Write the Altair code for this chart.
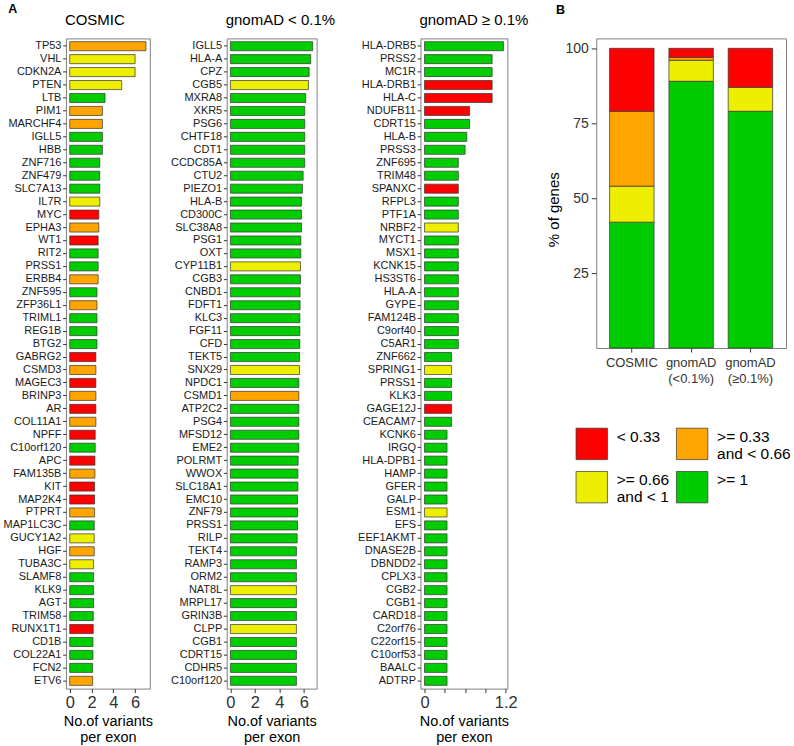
import altair as alt
import pandas as pd

FONT = "Liberation Sans"

# ---------------- data ----------------
cosmic_genes = ["TP53", "VHL", "CDKN2A", "PTEN", "LTB", "PIM1", "MARCHF4", "IGLL5", "HBB", "ZNF716",
                "ZNF479", "SLC7A13", "IL7R", "MYC", "EPHA3", "WT1", "RIT2", "PRSS1", "ERBB4", "ZNF595",
                "ZFP36L1", "TRIML1", "REG1B", "BTG2", "GABRG2", "CSMD3", "MAGEC3", "BRINP3", "AR", "COL11A1",
                "NPFF", "C10orf120", "APC", "FAM135B", "KIT", "MAP2K4", "PTPRT", "MAP1LC3C", "GUCY1A2", "HGF",
                "TUBA3C", "SLAMF8", "KLK9", "AGT", "TRIM58", "RUNX1T1", "CD1B", "COL22A1", "FCN2", "ETV6"]
cosmic_values = [7.0, 6.0, 6.0, 4.77, 3.24, 3.0, 3.0, 3.0, 3.0, 2.76,
                 2.76, 2.76, 2.76, 2.67, 2.67, 2.61, 2.61, 2.61, 2.61, 2.5,
                 2.5, 2.5, 2.5, 2.5, 2.4, 2.4, 2.4, 2.4, 2.4, 2.4,
                 2.34, 2.34, 2.31, 2.31, 2.28, 2.28, 2.28, 2.25, 2.25, 2.25,
                 2.19, 2.19, 2.19, 2.19, 2.16, 2.16, 2.13, 2.13, 2.1, 2.1]
cosmic_class = ["O", "Y", "Y", "Y", "G", "O", "O", "G", "G", "G",
                "G", "G", "Y", "R", "O", "R", "G", "G", "O", "G",
                "O", "G", "G", "G", "R", "O", "R", "O", "R", "O",
                "R", "G", "R", "O", "R", "R", "O", "G", "Y", "O",
                "Y", "G", "G", "G", "G", "R", "G", "G", "G", "O"]

rare_genes = ["IGLL5", "HLA-A", "CPZ", "CGB5", "MXRA8", "XKR5", "PSG6", "CHTF18", "CDT1", "CCDC85A",
              "CTU2", "PIEZO1", "HLA-B", "CD300C", "SLC38A8", "PSG1", "OXT", "CYP11B1", "CGB3", "CNBD1",
              "FDFT1", "KLC3", "FGF11", "CFD", "TEKT5", "SNX29", "NPDC1", "CSMD1", "ATP2C2", "PSG4",
              "MFSD12", "EME2", "POLRMT", "WWOX", "SLC18A1", "EMC10", "ZNF79", "PRSS1", "RILP", "TEKT4",
              "RAMP3", "ORM2", "NAT8L", "MRPL17", "GRIN3B", "CLPP", "CGB1", "CDRT15", "CDHR5", "C10orf120"]
rare_values = [6.73, 6.57, 6.44, 6.38, 6.16, 6.08, 6.08, 6.08, 6.08, 6.08,
               5.95, 5.89, 5.81, 5.81, 5.81, 5.76, 5.76, 5.73, 5.73, 5.7,
               5.7, 5.68, 5.68, 5.68, 5.65, 5.65, 5.6, 5.6, 5.6, 5.6,
               5.6, 5.6, 5.54, 5.52, 5.52, 5.49, 5.49, 5.49, 5.46, 5.4,
               5.4, 5.4, 5.4, 5.4, 5.4, 5.4, 5.4, 5.4, 5.4, 5.4]
rare_class = ["G", "G", "G", "Y", "G", "G", "G", "G", "G", "G",
              "G", "G", "G", "G", "G", "G", "G", "Y", "G", "G",
              "G", "G", "G", "G", "G", "Y", "G", "O", "G", "G",
              "G", "G", "G", "G", "G", "G", "G", "G", "G", "G",
              "G", "G", "Y", "G", "G", "Y", "G", "G", "G", "G"]

common_genes = ["HLA-DRB5", "PRSS2", "MC1R", "HLA-DRB1", "HLA-C", "NDUFB11", "CDRT15", "HLA-B", "PRSS3", "ZNF695",
                "TRIM48", "SPANXC", "RFPL3", "PTF1A", "NRBF2", "MYCT1", "MSX1", "KCNK15", "HS3ST6", "HLA-A",
                "GYPE", "FAM124B", "C9orf40", "C5AR1", "ZNF662", "SPRING1", "PRSS1", "KLK3", "GAGE12J", "CEACAM7",
                "KCNK6", "IRGQ", "HLA-DPB1", "HAMP", "GFER", "GALP", "ESM1", "EFS", "EEF1AKMT", "DNASE2B",
                "DBNDD2", "CPLX3", "CGB2", "CGB1", "CARD18", "C2orf76", "C22orf15", "C10orf53", "BAALC", "ADTRP"]
common_values = [1.167, 1.0, 1.0, 1.0, 1.0, 0.667, 0.667, 0.625, 0.6, 0.5,
                 0.5, 0.5, 0.5, 0.5, 0.5, 0.5, 0.5, 0.5, 0.5, 0.5,
                 0.5, 0.5, 0.5, 0.5, 0.4, 0.4, 0.4, 0.4, 0.4, 0.4,
                 0.333, 0.333, 0.333, 0.333, 0.333, 0.333, 0.333, 0.333, 0.333, 0.333,
                 0.333, 0.333, 0.333, 0.333, 0.333, 0.333, 0.333, 0.333, 0.333, 0.333]
common_class = ["G", "G", "G", "R", "R", "R", "G", "G", "G", "G",
                "G", "R", "G", "G", "Y", "G", "G", "G", "G", "G",
                "G", "G", "G", "G", "G", "Y", "G", "G", "R", "G",
                "G", "G", "G", "G", "G", "G", "Y", "G", "G", "G",
                "G", "G", "G", "G", "G", "G", "G", "G", "G", "G"]

b_groups = ["COSMIC", "gnomAD\n(<0.1%)", "gnomAD\n(≥0.1%)"]
b_green = [42, 89, 79]
b_yellow = [12, 7, 8]
b_orange = [25, 1, 0]
b_red = [21, 3, 13]

class_codes = ["R", "O", "Y", "G"]
class_colors = ["#FF0000", "#FFA500", "#EEEE00", "#00CD00"]
legend_labels = ["< 0.33", ">= 0.33\nand < 0.66", ">= 0.66\nand < 1", ">= 1"]

color_scale = alt.Scale(domain=class_codes, range=class_colors)
FRAME = alt.ViewBackground(stroke="#808080", strokeWidth=1)
PANEL_H = 651


def label_text(txt, x, y, size, weight="normal"):
    return alt.Chart(pd.DataFrame({"t": [txt]})).mark_text(
        fontSize=size, fontWeight=weight, align="left", baseline="alphabetic", font=FONT, color="black"
    ).encode(text="t:N", x=alt.value(x), y=alt.value(y))


def gene_panel(genes, values, classes, title, domain, ticks, width, label_expr=None, extra=None):
    df = pd.DataFrame({"gene": genes, "value": values, "cls": classes})
    xaxis = dict(values=ticks, title=["No.of variants", "per exon"], labelFontSize=16.5,
                 labelColor="#333333", tickSize=4, tickColor="#333333", labelPadding=2,
                 titleFontSize=14.5, titleLineHeight=16, titlePadding=3, labelFlush=False)
    if label_expr is not None:
        xaxis["labelExpr"] = label_expr
    bars = alt.Chart(df).mark_bar(stroke="#333333", strokeWidth=0.7).encode(
        y=alt.Y("gene:N", sort=genes, title=None,
                scale=alt.Scale(paddingInner=0.3, paddingOuter=0.25),
                axis=alt.Axis(labelFontSize=11, labelColor="#1a1a1a", tickSize=3.3,
                              tickColor="#333333", labelPadding=1.7, labelOverlap=False)),
        x=alt.X("value:Q", scale=alt.Scale(domain=domain, nice=False, zero=False),
                axis=alt.Axis(**xaxis)),
        color=alt.Color("cls:N", scale=color_scale, legend=None),
    )
    layers = [bars, label_text(title, -1, -13, 15)]
    if extra is not None:
        layers.append(extra)
    return alt.layer(*layers).properties(width=width, height=PANEL_H, view=FRAME)


def spacer(w):
    return alt.Chart(pd.DataFrame({"s": [0]})).mark_point(opacity=0).encode(
        x=alt.value(0), y=alt.value(0)
    ).properties(width=w, height=10, view=alt.ViewBackground(stroke="transparent"))


p1 = gene_panel(cosmic_genes, cosmic_values, cosmic_class, "COSMIC",
                [-0.35, 7.35], [0, 2, 4, 6], 84, extra=label_text("A", -57.7, -25.3, 12.5, "bold"))
p2 = gene_panel(rare_genes, rare_values, rare_class, "gnomAD < 0.1%",
                [-0.3, 7.05], [0, 2, 4, 6], 90)
p3 = gene_panel(common_genes, common_values, common_class, "gnomAD ≥ 0.1%",
                [-0.06, 1.225], [0, 0.3, 0.6, 0.9, 1.2], 87,
                label_expr="datum.value < 0.01 ? '0' : (datum.value > 1.1 ? '1.2' : '')")

# ---------------- panel B ----------------
rows = []
for gi, g in enumerate(b_groups):
    for code, vals, order in [("G", b_green, 0), ("Y", b_yellow, 1), ("O", b_orange, 2), ("R", b_red, 3)]:
        if vals[gi] > 0:
            rows.append({"group": g, "cls": code, "pct": vals[gi], "ord": order})
bdf = pd.DataFrame(rows)

bbars = alt.Chart(bdf).mark_bar(stroke="#333333", strokeWidth=0.7).encode(
    x=alt.X("group:N", sort=b_groups, title=None,
            scale=alt.Scale(paddingInner=0.25, paddingOuter=0.225),
            axis=alt.Axis(labelAngle=0, labelExpr="split(datum.label, '\\n')", labelFontSize=13,
                          labelLineHeight=16.5, tickSize=4, tickColor="#333333",
                          labelColor="#333333", labelPadding=4.5)),
    y=alt.Y("pct:Q", stack="zero", scale=alt.Scale(domain=[0, 103.3], nice=False),
            axis=alt.Axis(values=[25, 50, 75, 100], title="% of genes", titleFontSize=15,
                          titleX=-35, titleY=171, labelFontSize=14, labelColor="#333333",
                          tickSize=5, tickColor="#333333", labelPadding=3)),
    color=alt.Color("cls:N", scale=color_scale, legend=None),
    order=alt.Order("ord:Q", sort="ascending"),
)

ldf = pd.DataFrame({
    "cls": class_codes,
    "label": legend_labels,
    "col": [i % 2 for i in range(len(class_codes))],
    "row": [i // 2 for i in range(len(class_codes))],
})
lx = alt.X("col:Q", scale=alt.Scale(domain=[0, 1], range=[-4.5, 96]), axis=None)
ly = alt.Y("row:Q", scale=alt.Scale(domain=[0, 1], range=[406, 449.3]), axis=None)
lsq = alt.Chart(ldf).mark_square(size=990, opacity=1, filled=True, stroke="#333333", strokeWidth=0.7).encode(
    x=lx, y=ly, color=alt.Color("cls:N", scale=color_scale, legend=None)
)
ltxt = alt.Chart(ldf).mark_text(
    align="left", baseline="alphabetic", dx=25, dy=-2, fontSize=15.5, lineBreak="\n",
    lineHeight=16.7, font=FONT, color="black"
).encode(x=lx, y=ly, text="label:N")

pB = alt.layer(bbars, lsq, ltxt, label_text("B", -40.3, -24.3, 12.5, "bold")).resolve_scale(
    x="independent", y="independent"
).properties(width=190, height=310, view=FRAME)

chart = alt.hconcat(
    p1, spacer(77), p2, spacer(104), p3, spacer(89), pB, spacing=0, bounds="flush"
).properties(
    padding={"left": 2, "top": 2, "right": 2, "bottom": 0}
).configure(font=FONT).configure_axis(
    grid=False, domain=False, labelFont=FONT, titleFont=FONT, titleFontWeight="normal",
    titleColor="black"
).configure_view(stroke="transparent")

chart.save("out.html", embed_options={"renderer": "svg", "actions": False})
